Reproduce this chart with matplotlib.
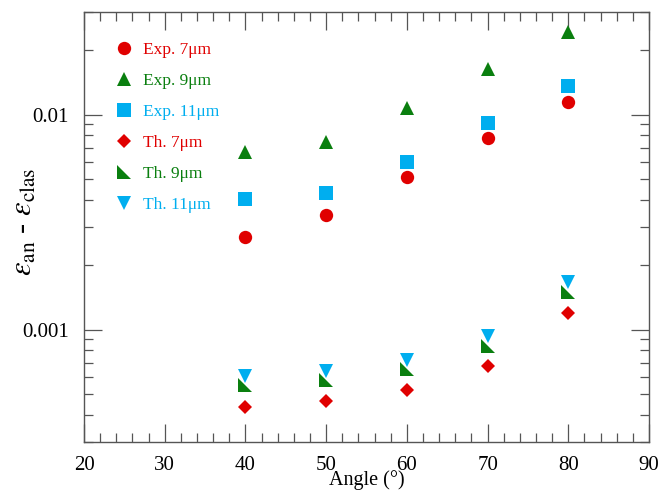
import matplotlib
matplotlib.use("Agg")
import matplotlib.pyplot as plt
from matplotlib.ticker import MultipleLocator, LogLocator, NullFormatter, FixedLocator, FixedFormatter

plt.rcParams["font.family"] = ["Liberation Serif", "DejaVu Serif"]
plt.rcParams["mathtext.fontset"] = "stix"

angles = [40, 50, 60, 70, 80]

exp_7 = [0.00271, 0.00340, 0.00511, 0.00780, 0.01146]
exp_9 = [0.00668, 0.00746, 0.01070, 0.01637, 0.02430]
exp_11 = [0.00403, 0.00430, 0.00603, 0.00911, 0.01365]
th_7 = [0.000438, 0.000464, 0.000526, 0.000680, 0.00120]
th_9 = [0.000550, 0.000580, 0.000656, 0.000843, 0.00149]
th_11 = [0.000607, 0.000640, 0.000725, 0.000938, 0.00166]

red = "#e00000"
green = "#0a7f0f"
cyan = "#00aeef"

right_tri = [(-1, 1), (-1, -1), (1, -1)]

series = [
    ("Exp. 7\u03bcm", exp_7, "o", red, 9.6),
    ("Exp. 9\u03bcm", exp_9, "^", green, 9.6),
    ("Exp. 11\u03bcm", exp_11, "s", cyan, 9.6),
    ("Th. 7\u03bcm", th_7, "D", red, 6.8),
    ("Th. 9\u03bcm", th_9, right_tri, green, 9.6),
    ("Th. 11\u03bcm", th_11, "v", cyan, 9.6),
]

fig = plt.figure(figsize=(6.59, 4.92), dpi=100)
ax = fig.add_axes([0.1275, 0.1016, 0.8573, 0.874])

for label, vals, marker, color, ms in series:
    ax.plot(angles, vals, linestyle="none", marker=marker, color=color,
            markersize=ms, markeredgewidth=0, label=label)

ax.set_yscale("log")
ax.set_xlim(20, 90)
ax.set_ylim(3.0e-4, 0.030)

ax.xaxis.set_major_locator(MultipleLocator(10))
ax.xaxis.set_minor_locator(MultipleLocator(2))
ax.yaxis.set_major_locator(FixedLocator([0.001, 0.01]))
ax.yaxis.set_major_formatter(FixedFormatter(["0.001", "0.01"]))
ax.yaxis.set_minor_locator(LogLocator(base=10, subs=range(2, 10)))
ax.yaxis.set_minor_formatter(NullFormatter())

for s in ax.spines.values():
    s.set_color("#555555")
    s.set_linewidth(1.0)

ax.tick_params(which="both", direction="in", top=True, right=True,
               color="#555555", width=0.9, labelsize=15)
ax.tick_params(which="major", length=13)
ax.tick_params(which="minor", length=6.5)
ax.tick_params(axis="x", which="major", pad=10)
ax.tick_params(axis="y", which="major", pad=11)

# reference has the x label partly clipped at the bottom; keep it just inside
ax.set_xlabel("Angle (\u00b0)", fontsize=14.5)
ax.xaxis.set_label_coords(0.5, -0.066)
ax.set_ylabel(r"$\varepsilon_{\rm an}$ - $\varepsilon_{\rm clas}$", fontsize=22)
ax.yaxis.set_label_coords(-0.08, 0.512)

leg = ax.legend(loc="upper left", bbox_to_anchor=(0.056, 0.93), frameon=False,
                fontsize=12.5, handlelength=1.0, handletextpad=0.55,
                labelspacing=0.85, borderpad=0, borderaxespad=0,
                labelcolor="markerfacecolor", numpoints=1)

fig.savefig("out.png", dpi=100)
